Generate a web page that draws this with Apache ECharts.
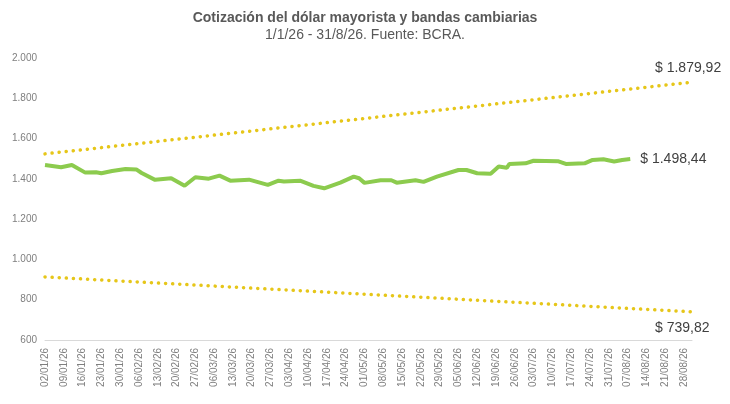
<!DOCTYPE html>
<html><head><meta charset="utf-8">
<script src="https://cdn.jsdelivr.net/npm/echarts@6/dist/echarts.min.js"></script>
<style>body{margin:0}#main{width:730px;height:404px}</style>
</head><body><div id="main"></div>
<script>
// day index from 02/01/26 and wholesale dollar quote
var dolarDays = [0,6,10,15,19,21,25,30,34,36,41,47,52,56,61,65,69,76,83,87,89,95,100,104,110,115,117,119,125,129,131,138,141,146,154,157,161,166,169,172,173,179,182,191,194,201,204,208,212,215,218];
var dolarVals = [1469,1458,1469,1431,1433,1428,1439,1449,1447,1429,1395,1403,1366,1408,1401,1416,1391,1396,1370,1391,1387,1391,1365,1353,1381,1411,1403,1380,1393,1393,1381,1393,1385,1411,1444,1444,1428,1425,1461,1455,1474,1477,1490,1488,1474,1477,1494,1497,1486,1494,1498.44];
var bandDays = [0, 241];
var bandUpper = [1524, 1879.92];
var bandLower = [913, 739.82];

var cats = [];
for (var i = 0; i < 242; i++) {
	var d = new Date(2026, 0, 2 + i);
	cats.push(('0' + d.getDate()).slice(-2) + '/' + ('0' + (d.getMonth() + 1)).slice(-2) + '/26');
}
function fmt(v) {
	return '$ ' + v.toLocaleString('de-DE', {minimumFractionDigits: 2, maximumFractionDigits: 2});
}
function pairs(xs, ys) {
	return xs.map(function (x, i) { return [x, ys[i]]; });
}
var yellow = '#E6C619';
var chart = echarts.init(document.getElementById('main'));
chart.setOption({
	animation: false,
	title: {
		text: 'Cotización del dólar mayorista y bandas cambiarias',
		subtext: '1/1/26 - 31/8/26. Fuente: BCRA.',
		left: 'center', top: 6, itemGap: 3,
		textStyle: {fontFamily: 'Liberation Sans', fontSize: 14, fontWeight: 'bold', color: '#595959'},
		subtextStyle: {fontFamily: 'Liberation Sans', fontSize: 14, color: '#595959'}
	},
	grid: {left: 45, right: 38, top: 58, bottom: 64},
	xAxis: {
		type: 'category', data: cats, boundaryGap: false,
		axisLine: {lineStyle: {color: '#d9d9d9'}},
		axisTick: {show: false},
		axisLabel: {interval: 6, rotate: 90, fontSize: 10, color: '#7f7f7f', fontFamily: 'Liberation Sans'}
	},
	yAxis: {
		type: 'value', min: 600, max: 2000, interval: 200,
		splitLine: {show: false},
		axisLabel: {fontSize: 10, color: '#7f7f7f', fontFamily: 'Liberation Sans',
			formatter: function (v) { return v.toLocaleString('de-DE'); }}
	},
	series: [
		{type: 'line', data: pairs(bandDays, bandUpper), symbol: 'none',
			lineStyle: {color: yellow, width: 3.5, type: [0.1, 7], cap: 'round'},
			endLabel: {show: true, formatter: function (p) { return fmt(p.value[1]); }, offset: [-45, -14],
				fontSize: 14, color: '#404040', fontFamily: 'Liberation Sans'}},
		{type: 'line', data: pairs(bandDays, bandLower), symbol: 'none',
			lineStyle: {color: yellow, width: 3.5, type: [0.1, 7], cap: 'round'},
			endLabel: {show: true, formatter: function (p) { return fmt(p.value[1]); }, offset: [-45, 16],
				fontSize: 14, color: '#404040', fontFamily: 'Liberation Sans'}},
		{type: 'line', data: pairs(dolarDays, dolarVals), symbol: 'none',
			lineStyle: {color: '#8CCB4E', width: 4},
			endLabel: {show: true, formatter: function (p) { return fmt(p.value[1]); }, distance: 10,
				fontSize: 14, color: '#404040', fontFamily: 'Liberation Sans'}}
	]
});
</script>
</body></html>
